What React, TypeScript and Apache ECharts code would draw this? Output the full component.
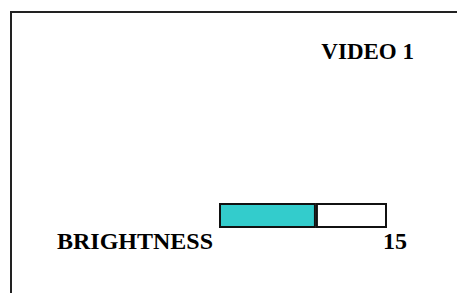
import React, { useEffect, useRef } from "react";
import * as echarts from "echarts";

const categories = ["BRIGHTNESS"];
const brightness = [15];
const maxLevel = 26;
const title = "VIDEO 1";

export default function App() {
  const ref = useRef<HTMLDivElement>(null);
  useEffect(() => {
    document.body.style.margin = "0";
    const chart = echarts.init(ref.current!, null, { renderer: "svg" });
    const font = 'bold 24px "Liberation Serif", "Times New Roman", serif';
    chart.setOption({
      animation: false,
      backgroundColor: "#ffffff",
      grid: { left: 219, right: 70, top: 203, height: 25 },
      xAxis: { type: "value", min: 0, max: maxLevel, show: false },
      yAxis: { type: "category", data: categories, show: false },
      series: [
        {
          type: "bar",
          stack: "lvl",
          barWidth: "100%",
          data: brightness,
          itemStyle: { color: "#33CCCC", borderColor: "#111", borderWidth: 2 },
        },
        {
          type: "bar",
          stack: "lvl",
          barWidth: "100%",
          data: brightness.map((v) => maxLevel - v),
          itemStyle: { color: "#ffffff", borderColor: "#111", borderWidth: 2 },
        },
      ],
      graphic: [
        {
          type: "rect",
          shape: { x: 11, y: 12, width: 600, height: 400 },
          style: { fill: "none", stroke: "#222", lineWidth: 2 },
        },
        {
          type: "text",
          x: 414,
          y: 51,
          style: {
            text: title,
            font: 'bold 23px "Liberation Serif", "Times New Roman", serif',
            fill: "#000",
            align: "right",
            verticalAlign: "middle",
          },
        },
        {
          type: "text",
          x: 57,
          y: 241,
          style: { text: categories[0], font, fill: "#000", align: "left", verticalAlign: "middle" },
        },
        {
          type: "text",
          x: 407,
          y: 241,
          style: { text: String(brightness[0]), font, fill: "#000", align: "right", verticalAlign: "middle" },
        },
      ],
    });
    return () => chart.dispose();
  }, []);
  return <div ref={ref} style={{ width: 457, height: 293 }} />;
}
